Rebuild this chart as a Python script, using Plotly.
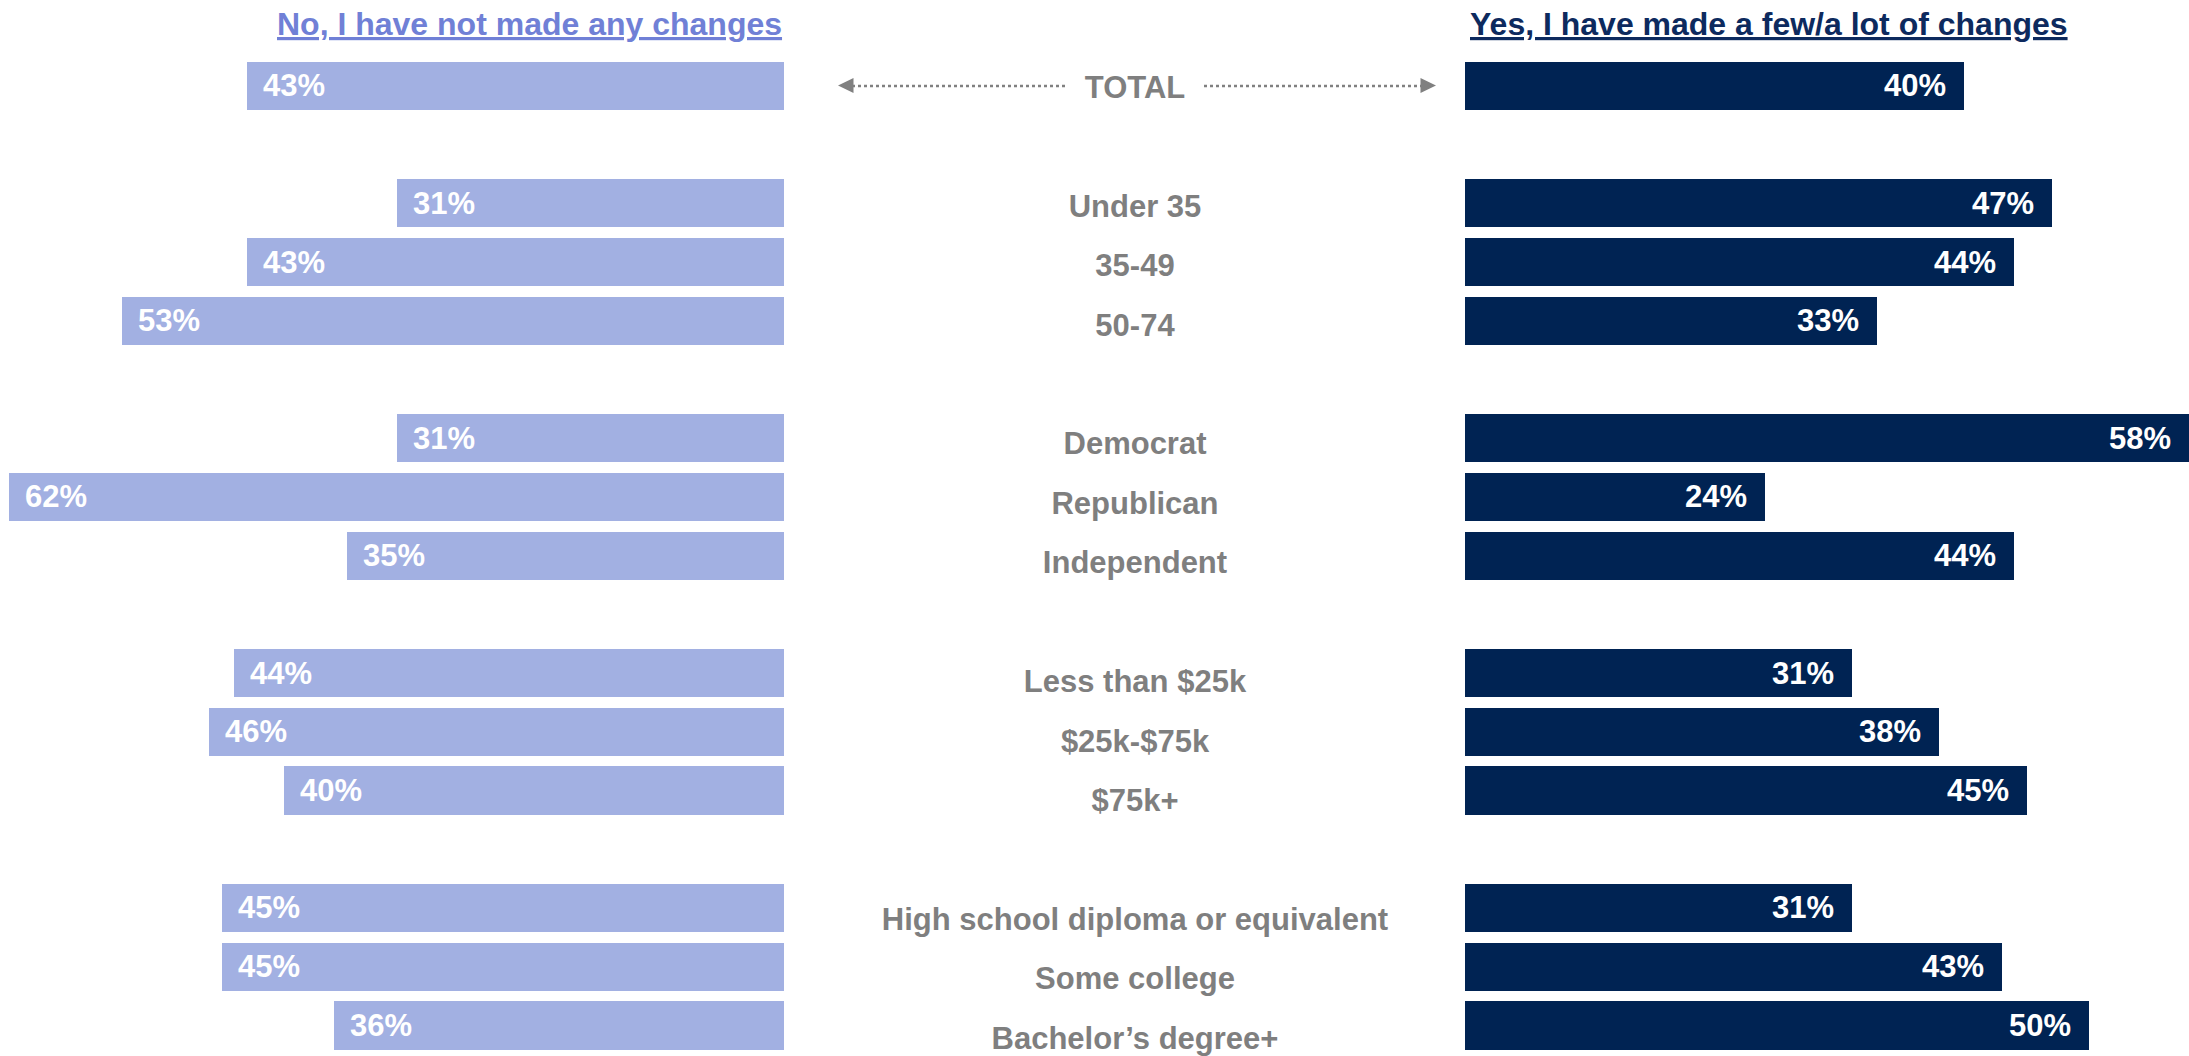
import plotly.graph_objects as go

# ---- data ----
group_labels = [
    ["TOTAL"],
    ["Under 35", "35-49", "50-74"],
    ["Democrat", "Republican", "Independent"],
    ["Less than $25k", "$25k-$75k", "$75k+"],
    ["High school diploma or equivalent", "Some college", "Bachelor\u2019s degree+"],
]
no_values = [[43], [31, 43, 53], [31, 62, 35], [44, 46, 40], [45, 45, 36]]
yes_values = [[40], [47, 44, 33], [58, 24, 44], [31, 38, 45], [31, 43, 50]]
no_title = "No, I have not made any changes"
yes_title = "Yes, I have made a few/a lot of changes"

# ---- layout helpers ----
W, H = 2189, 1056
FONT = "Arial, 'Liberation Sans', sans-serif"
C_NO = "#a2b0e2"
C_NO_TITLE = "#7080d6"
C_YES = "#002353"
C_YES_TITLE = "#0d2a5e"
C_LABEL = "#7f7f7f"

labels, nos, yeses, slots = [], [], [], []
s = 0
for gl, gn, gy in zip(group_labels, no_values, yes_values):
    for lab, n, y in zip(gl, gn, gy):
        labels.append(lab)
        nos.append(n)
        yeses.append(y)
        slots.append(s)
        s += 1
    s += 1  # blank slot between groups

LEFT_EDGE = 784      # px where "No" bars start (right end)
RIGHT_EDGE = 1465    # px where "Yes" bars start
PX_PER_PCT = 12.5
PITCH = 58.72
TOP0 = 85.9

y_r0 = -TOP0 / PITCH
y_r1 = y_r0 + H / PITCH

LPITCH = 59.44
LTOP0 = 90.0
ly_r0 = -LTOP0 / LPITCH
ly_r1 = ly_r0 + H / LPITCH

fig = go.Figure()

fig.add_trace(go.Bar(
    x=nos, y=slots, orientation="h", xaxis="x", yaxis="y",
    marker=dict(color=C_NO, line=dict(width=0)), width=0.82,
    hoverinfo="skip", showlegend=False,
))
fig.add_trace(go.Bar(
    x=yeses, y=slots, orientation="h", xaxis="x2", yaxis="y",
    marker=dict(color=C_YES, line=dict(width=0)), width=0.82,
    hoverinfo="skip", showlegend=False,
))
fig.add_trace(go.Scatter(
    x=[0] * len(labels), y=slots, xaxis="x3", yaxis="y2",
    mode="text", text=labels, textposition="middle center",
    textfont=dict(family=FONT, size=31, color=C_LABEL, weight="bold"),
    hoverinfo="skip", showlegend=False, cliponaxis=False,
))

annotations = []
for n, y, sl in zip(nos, yeses, slots):
    annotations.append(dict(
        x=n, y=sl, xref="x", yref="y", text=f"{n}%", showarrow=False,
        xanchor="left", yanchor="middle", xshift=14,
        font=dict(family=FONT, size=31, color="white", weight="bold"),
    ))
    annotations.append(dict(
        x=y, y=sl, xref="x2", yref="y", text=f"{y}%", showarrow=False,
        xanchor="right", yanchor="middle", xshift=-16,
        font=dict(family=FONT, size=31, color="white", weight="bold"),
    ))

annotations.append(dict(
    x=LEFT_EDGE / W, y=1 - 24 / H, xref="paper", yref="paper", text=no_title,
    showarrow=False, xanchor="right", yanchor="middle",
    font=dict(family=FONT, size=32, color=C_NO_TITLE, weight="bold", lineposition="under"),
))
annotations.append(dict(
    x=(RIGHT_EDGE + 3) / W, y=1 - 24 / H, xref="paper", yref="paper", text=yes_title,
    showarrow=False, xanchor="left", yanchor="middle",
    font=dict(family=FONT, size=32, color=C_YES_TITLE, weight="bold", lineposition="under"),
))

# dotted arrows around TOTAL
total_slot = slots[0]
shapes = [
    dict(type="line", xref="paper", yref="y", x0=852 / W, x1=1066 / W, y0=total_slot, y1=total_slot,
         line=dict(color="#808080", width=2.5, dash="dot")),
    dict(type="path", xref="paper", yref="paper",
         path=f"M {838/W},{1-85.5/H} L {853.5/W},{1-78/H} L {853.5/W},{1-93/H} Z",
         fillcolor="#808080", line=dict(width=0)),
    dict(type="line", xref="paper", yref="y", x0=1204 / W, x1=1421 / W, y0=total_slot, y1=total_slot,
         line=dict(color="#808080", width=2.5, dash="dot")),
    dict(type="path", xref="paper", yref="paper",
         path=f"M {1436/W},{1-85.5/H} L {1420.5/W},{1-78/H} L {1420.5/W},{1-93/H} Z",
         fillcolor="#808080", line=dict(width=0)),
]

fig.update_layout(
    width=W, height=H,
    margin=dict(l=0, r=0, t=0, b=0),
    paper_bgcolor="white", plot_bgcolor="white",
    bargap=0,
    xaxis=dict(domain=[0, LEFT_EDGE / W], range=[LEFT_EDGE / PX_PER_PCT, 0],
               visible=False, fixedrange=True),
    xaxis2=dict(domain=[RIGHT_EDGE / W, 1], range=[0, 58.0],
                visible=False, anchor="y", fixedrange=True),
    xaxis3=dict(domain=[805 / W, RIGHT_EDGE / W], range=[-1, 1], visible=False,
                anchor="y2", fixedrange=True),
    yaxis=dict(domain=[0, 1], range=[y_r1, y_r0], visible=False, fixedrange=True),
    yaxis2=dict(domain=[0, 1], range=[ly_r1, ly_r0], visible=False, anchor="x3",
                overlaying="y", fixedrange=True),
    annotations=annotations,
    shapes=shapes,
    font=dict(family=FONT),
)

fig.write_html(
    "out.html",
    config={"displayModeBar": False},
    post_script="document.body.style.margin='0';document.body.style.overflow='hidden';",
)
